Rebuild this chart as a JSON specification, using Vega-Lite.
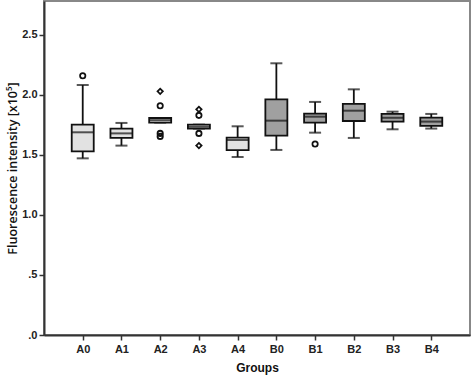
{
  "$schema": "https://vega.github.io/schema/vega-lite/v6.json",
  "width": 426,
  "height": 334,
  "autosize": "none",
  "padding": {"left": 44, "top": 1, "right": 2, "bottom": 40},
  "background": "white",
  "config": {
    "view": {"stroke": "#888888", "strokeWidth": 2},
    "axis": {"grid": false, "domainColor": "#333333", "domainWidth": 2, "tickColor": "#333333", "tickWidth": 1.5, "tickSize": 5,
      "labelFont": "Liberation Sans", "labelFontWeight": "bold", "labelFontSize": 11, "labelColor": "#222222",
      "titleColor": "#111111"}
  },
  "datasets": {
    "boxes": [
      {"group": "A0", "set": "A", "lo": 1.472, "q1": 1.53, "med": 1.689, "q3": 1.753, "hi": 2.083},
      {"group": "A1", "set": "A", "lo": 1.578, "q1": 1.642, "med": 1.68, "q3": 1.72, "hi": 1.767},
      {"group": "A2", "set": "A", "lo": 1.77, "q1": 1.77, "med": 1.79, "q3": 1.808, "hi": 1.808},
      {"group": "A3", "set": "A", "lo": 1.72, "q1": 1.72, "med": 1.735, "q3": 1.753, "hi": 1.753},
      {"group": "A4", "set": "A", "lo": 1.483, "q1": 1.54, "med": 1.625, "q3": 1.645, "hi": 1.739},
      {"group": "B0", "set": "B", "lo": 1.542, "q1": 1.661, "med": 1.786, "q3": 1.964, "hi": 2.264},
      {"group": "B1", "set": "B", "lo": 1.686, "q1": 1.769, "med": 1.819, "q3": 1.844, "hi": 1.942},
      {"group": "B2", "set": "B", "lo": 1.642, "q1": 1.783, "med": 1.869, "q3": 1.925, "hi": 2.047},
      {"group": "B3", "set": "B", "lo": 1.714, "q1": 1.778, "med": 1.81, "q3": 1.842, "hi": 1.861},
      {"group": "B4", "set": "B", "lo": 1.72, "q1": 1.742, "med": 1.778, "q3": 1.811, "hi": 1.842}
    ],
    "outliers": [
      {"group": "A0", "value": 2.16, "kind": "circle"},
      {"group": "A2", "value": 2.03, "kind": "diamond"},
      {"group": "A2", "value": 1.91, "kind": "circle"},
      {"group": "A2", "value": 1.68, "kind": "circle"},
      {"group": "A2", "value": 1.655, "kind": "circle"},
      {"group": "A3", "value": 1.88, "kind": "diamond"},
      {"group": "A3", "value": 1.83, "kind": "circle"},
      {"group": "A3", "value": 1.68, "kind": "circle"},
      {"group": "A3", "value": 1.578, "kind": "diamond"},
      {"group": "B1", "value": 1.592, "kind": "circle"}
    ]
  },
  "encoding": {
    "x": {"field": "group", "type": "nominal",
      "scale": {"type": "point", "padding": 1, "domain": ["A0","A1","A2","A3","A4","B0","B1","B2","B3","B4"]},
      "axis": {"title": "Groups", "labelAngle": 0, "labelPadding": 3, "titlePadding": 8, "titleFont": "Liberation Sans", "titleFontWeight": "bold", "titleFontSize": 12}}
  },
  "layer": [
    {
      "data": {"name": "boxes"},
      "mark": {"type": "rule", "color": "#111111", "strokeWidth": 1.8},
      "encoding": {
        "y": {"field": "lo", "type": "quantitative",
          "scale": {"domain": [0, 2.783], "nice": false, "zero": true},
          "axis": {"title": "Fluorescence intensity [x10⁵]", "values": [0, 0.5, 1, 1.5, 2, 2.5],
            "labelExpr": "datum.value == 0 ? '.0' : datum.value == 0.5 ? '.5' : format(datum.value, '.1f')",
            "titleFont": "Open Sans", "titleFontWeight": 600, "titleFontSize": 12.5, "titlePadding": 2, "labelPadding": 2}},
        "y2": {"field": "hi"}
      }
    },
    {
      "data": {"name": "boxes"},
      "mark": {"type": "tick", "color": "#111111", "size": 12, "thickness": 2},
      "encoding": {"y": {"field": "lo", "type": "quantitative"}}
    },
    {
      "data": {"name": "boxes"},
      "mark": {"type": "tick", "color": "#111111", "size": 12, "thickness": 2},
      "encoding": {"y": {"field": "hi", "type": "quantitative"}}
    },
    {
      "data": {"name": "boxes"},
      "mark": {"type": "bar", "width": 22, "stroke": "#111111", "strokeWidth": 1.8},
      "encoding": {
        "y": {"field": "q1", "type": "quantitative"},
        "y2": {"field": "q3"},
        "fill": {"field": "set", "type": "nominal", "scale": {"domain": ["A", "B"], "range": ["#e2e2e2", "#a0a0a0"]}, "legend": null}
      }
    },
    {
      "data": {"name": "boxes"},
      "mark": {"type": "tick", "color": "#111111", "size": 22, "thickness": 2},
      "encoding": {"y": {"field": "med", "type": "quantitative"}}
    },
    {
      "data": {"name": "outliers"},
      "mark": {"type": "point", "filled": false, "stroke": "#111111", "strokeWidth": 1.8, "size": 28, "opacity": 1},
      "encoding": {
        "y": {"field": "value", "type": "quantitative"},
        "shape": {"field": "kind", "type": "nominal", "scale": {"domain": ["circle", "diamond"], "range": ["circle", "diamond"]}, "legend": null}
      }
    }
  ]
}
